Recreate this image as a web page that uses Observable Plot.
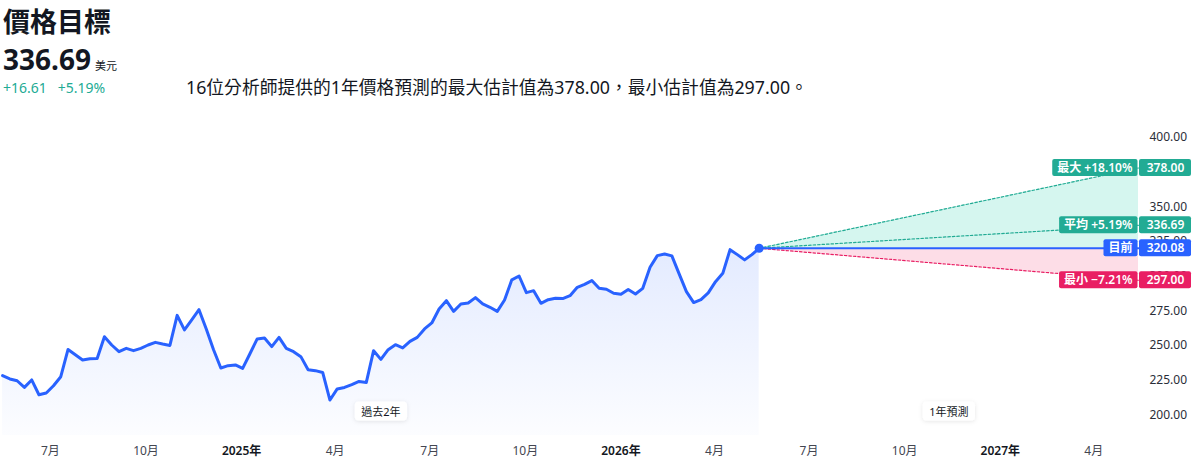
<!DOCTYPE html>
<html><head><meta charset="utf-8">
<script src="https://cdn.jsdelivr.net/npm/d3@7"></script>
<script src="https://cdn.jsdelivr.net/npm/@observablehq/plot@0.6"></script>
<style>
  html,body{margin:0;padding:0;background:#fff;}
  body{width:1195px;height:464px;overflow:hidden;font-family:"Noto Sans","Noto Sans CJK TC",sans-serif;color:#131722;}
  #hdr{position:relative;height:110px;}
  #hdr div{position:absolute;white-space:nowrap;line-height:1;}
  #title{left:3px;top:7px;font-size:27px;font-weight:700;font-family:"Noto Sans CJK TC",sans-serif;}
  #price{left:3px;top:45px;font-size:28px;font-weight:700;}
  #price span{font-size:11px;font-weight:400;margin-left:4px;font-family:"Noto Sans CJK TC",sans-serif;}
  #chg{left:3px;top:81px;font-size:14px;color:#22ab94;}
  #sub{left:186px;top:79px;font-size:17.8px;}
  #chart{position:absolute;left:0;top:110px;}
</style>
</head><body>
<div id="hdr">
  <div id="title"></div>
  <div id="price"></div>
  <div id="chg"></div>
  <div id="sub"></div>
</div>
<div id="chart"></div>
<script>
// ---- data ----
const titleText = "價格目標";
const targetPrice = "336.69";
const currency = "美元";
const changeAbs = "+16.61";
const changePct = "+5.19%";
const subtitle = "16位分析師提供的1年價格預測的最大估計值為378.00，最小估計值為297.00。";

const dates = [
"2024-05-16","2024-05-23","2024-05-30","2024-06-06","2024-06-13","2024-06-20","2024-06-27","2024-07-04","2024-07-11","2024-07-18",
"2024-07-25","2024-08-01","2024-08-08","2024-08-15","2024-08-22","2024-08-29","2024-09-05","2024-09-12","2024-09-19","2024-09-26",
"2024-10-03","2024-10-10","2024-10-17","2024-10-24","2024-10-31","2024-11-07","2024-11-14","2024-11-21","2024-11-28","2024-12-05",
"2024-12-12","2024-12-19","2024-12-26","2025-01-02","2025-01-09","2025-01-16","2025-01-23","2025-01-30","2025-02-06","2025-02-13",
"2025-02-20","2025-02-27","2025-03-06","2025-03-13","2025-03-20","2025-03-27","2025-04-03","2025-04-10","2025-04-17","2025-04-24",
"2025-05-01","2025-05-08","2025-05-15","2025-05-22","2025-05-29","2025-06-05","2025-06-12","2025-06-19","2025-06-26","2025-07-03",
"2025-07-10","2025-07-17","2025-07-24","2025-07-31","2025-08-07","2025-08-14","2025-08-21","2025-08-28","2025-09-04","2025-09-11",
"2025-09-18","2025-09-25","2025-10-02","2025-10-09","2025-10-16","2025-10-23","2025-10-30","2025-11-06","2025-11-13","2025-11-20",
"2025-11-27","2025-12-04","2025-12-11","2025-12-18","2025-12-25","2026-01-01","2026-01-08","2026-01-15","2026-01-22","2026-01-29",
"2026-02-05","2026-02-12","2026-02-19","2026-02-26","2026-03-05","2026-03-12","2026-03-19","2026-03-26","2026-04-02","2026-04-09",
"2026-04-16","2026-04-23","2026-04-30","2026-05-07","2026-05-14"];
const prices = [
228.2,225.8,224.5,219.7,225.1,214.4,215.7,220.9,227.4,247.1,
243.3,239.5,240.4,240.6,256.3,250.3,245.5,247.9,246.2,247.9,
250.3,252.2,251.0,250.0,271.7,261.2,268.4,275.8,261.9,246.9,
233.7,235.4,235.9,233.4,244.0,254.7,255.4,249.1,255.8,247.9,
245.5,241.9,232.5,231.8,230.5,210.6,218.6,219.7,221.7,224.0,
223.3,246.2,239.9,246.9,250.5,248.2,252.9,255.8,261.9,266.2,
276.3,282.3,274.6,279.9,280.6,284.5,279.9,277.5,274.6,282.8,
297.3,300.1,288.1,289.5,280.4,283.0,284.0,283.8,285.9,291.9,
294.1,296.8,291.2,290.5,287.6,286.9,290.3,287.1,291.2,306.4,
314.8,316.0,314.6,301.6,288.8,280.9,283.0,287.9,296.0,302.0,
319.1,315.5,311.7,315.5,320.08];

const forecastEnd = "2027-05-14";
const currentPrice = 320.08;
const currentLabel = "目前";
const targetLabels = ["最大 +18.10%", "平均 +5.19%", "最小 −7.21%"];
const targetValues = [378.00, 336.69, 297.00];
const targetKinds  = ["up", "up", "down"];

const yTicks = [200, 225, 250, 275, 300, 325, 350, 400];
const monthTickDates  = ["2024-07-01","2024-10-01","2025-04-01","2025-07-01","2025-10-01","2026-04-01","2026-07-01","2026-10-01","2027-04-01"];
const monthTickLabels = ["7月","10月","4月","7月","10月","4月","7月","10月","4月"];
const yearTickDates   = ["2025-01-01","2026-01-01","2027-01-01"];
const yearTickLabels  = ["2025年","2026年","2027年"];
const periodLabels = ["過去2年", "1年預測"];

// ---- header ----
document.getElementById("title").textContent = titleText;
document.getElementById("price").innerHTML = targetPrice + "<span>" + currency + "</span>";
document.getElementById("chg").innerHTML = changeAbs + "&nbsp;&nbsp;&nbsp;" + changePct;
document.getElementById("sub").textContent = subtitle;

// ---- colours ----
const BLUE = "#2962ff", TEAL = "#22ab94", PINK = "#e91e63";
const MINT_FILL = "#d5f6ef", PINK_FILL = "#fddde7";

// ---- tables ----
const hist = dates.map((d, i) => ({date: new Date(d), price: prices[i]}));
const last = hist[hist.length - 1];
const endDate = new Date(forecastEnd);
const startDate = new Date("2024-05-14");
const yMin = 185, yMax = 419.5;

const maxV = d3.max(targetValues), minV = d3.min(targetValues);
const upTri = [{date: last.date, lo: currentPrice, hi: currentPrice}, {date: endDate, lo: currentPrice, hi: maxV}];
const downTri = [{date: last.date, lo: currentPrice, hi: currentPrice}, {date: endDate, lo: minV, hi: currentPrice}];

const targetLines = targetValues.map((v, i) => [
  {date: last.date, price: currentPrice, kind: targetKinds[i]},
  {date: endDate, price: v, kind: targetKinds[i]}
]);

const tags = [
  {label: targetLabels[0], value: targetValues[0], color: TEAL},
  {label: targetLabels[1], value: targetValues[1], color: TEAL},
  {label: currentLabel, value: currentPrice, color: BLUE},
  {label: targetLabels[2], value: targetValues[2], color: PINK}
];

const pills = [
  {label: periodLabels[0], date: new Date((+hist[0].date + +last.date) / 2)},
  {label: periodLabels[1], date: new Date((+last.date + +endDate) / 2)}
];

const FONT = '"Noto Sans","Noto Sans CJK TC",sans-serif';

const chart = Plot.plot({
  width: 1195, height: 354,
  marginLeft: 0, marginRight: 57, marginTop: 0, marginBottom: 29,
  x: {type: "utc", domain: [startDate, endDate], label: null},
  y: {domain: [yMin, yMax], label: null},
  style: {fontFamily: FONT, fontSize: "12px", color: "#131722", background: "transparent", overflow: "visible"},
  marks: [
    Plot.areaY(hist, {x: "date", y1: yMin, y2: "price", fill: "url(#histGrad)"}),
    Plot.areaY(upTri, {x: "date", y1: "lo", y2: "hi", fill: MINT_FILL}),
    Plot.areaY(downTri, {x: "date", y1: "lo", y2: "hi", fill: PINK_FILL}),
    ...targetLines.map(l => Plot.line(l, {x: "date", y: "price", stroke: l[0].kind === "up" ? TEAL : PINK, strokeWidth: 1.2, strokeDasharray: "2.5,2"})),
    Plot.line([last, {date: endDate, price: currentPrice}], {x: "date", y: "price", stroke: BLUE, strokeWidth: 2}),
    Plot.line(hist, {x: "date", y: "price", stroke: BLUE, strokeWidth: 3, strokeLinejoin: "round", strokeLinecap: "round"}),
    Plot.dot([last], {x: "date", y: "price", r: 4.5, fill: BLUE}),
    Plot.axisY(yTicks, {anchor: "right", tickSize: 0, tickPadding: 11, tickFormat: d => d.toFixed(2), fill: "#2a2e39", label: null, fontSize: 12}),
    Plot.axisX(monthTickDates.map(d => new Date(d)), {anchor: "bottom", tickSize: 0, tickPadding: 11, label: null, fill: "#434651",
      tickFormat: d => monthTickLabels[monthTickDates.indexOf(d.toISOString().slice(0, 10))]}),
    Plot.axisX(yearTickDates.map(d => new Date(d)), {anchor: "bottom", tickSize: 0, tickPadding: 11, label: null, fill: "#131722", fontWeight: 600,
      tickFormat: d => yearTickLabels[yearTickDates.indexOf(d.toISOString().slice(0, 10))]}),
    Plot.text(pills, {x: "date", frameAnchor: "bottom", dy: -20, text: "label", fill: "#131722", fontSize: 11, ariaDescription: "pill"}),
    Plot.text(tags, {x: () => endDate, y: "value", text: "label", textAnchor: "end", dx: -6, fill: "white", fontSize: 12, fontWeight: 600, ariaDescription: "tag-label"}),
    Plot.text(tags, {x: () => endDate, y: "value", text: d => d.value.toFixed(2), textAnchor: "middle", dx: 27, fill: "white", fontSize: 12, fontWeight: 600, ariaDescription: "tag-value"})
  ]
});
document.getElementById("chart").append(chart);

// ---- gradient defs ----
const NS = "http://www.w3.org/2000/svg";
const defs = document.createElementNS(NS, "defs");
defs.innerHTML = '<linearGradient id="histGrad" x1="0" y1="0" x2="0" y2="1">' +
  '<stop offset="0" stop-color="rgb(41,98,255)" stop-opacity="0.13"/>' +
  '<stop offset="1" stop-color="rgb(41,98,255)" stop-opacity="0.015"/></linearGradient>' +
  '<filter id="pillShadow" x="-30%" y="-50%" width="160%" height="200%"><feDropShadow dx="0" dy="1" stdDeviation="2" flood-color="#000" flood-opacity="0.10"/></filter>';
chart.insertBefore(defs, chart.firstChild);

// ---- backgrounds for tags and pills ----
const sx = chart.scale("x"), sy = chart.scale("y");
const svgBox = chart.getBoundingClientRect();
const X = sx.apply(endDate);

function addBg(desc, build) {
  const g = chart.querySelector('g[aria-description="' + desc + '"]');
  if (!g) return;
  const bg = document.createElementNS(NS, "g");
  g.parentNode.insertBefore(bg, g);
  g.querySelectorAll("text").forEach((t, i) => build(bg, t, i));
}
function rect(parent, x, y, w, h, fill, rx, extra) {
  const r = document.createElementNS(NS, "rect");
  r.setAttribute("x", x); r.setAttribute("y", y);
  r.setAttribute("width", w); r.setAttribute("height", h);
  r.setAttribute("fill", fill); r.setAttribute("rx", rx);
  if (extra) for (const k in extra) r.setAttribute(k, extra[k]);
  parent.appendChild(r);
}
addBg("tag-label", (bg, t, i) => {
  const b = t.getBoundingClientRect();
  const Y = sy.apply(tags[i].value);
  const left = b.left - svgBox.left - 5;
  rect(bg, left, Y - 8.5, X - 0.5 - left, 17, tags[i].color, 2);
});
addBg("tag-value", (bg, t, i) => {
  const Y = sy.apply(tags[i].value);
  rect(bg, X + 1, Y - 8.5, 52, 17, tags[i].color, 2);
});
addBg("pill", (bg, t, i) => {
  const b = t.getBoundingClientRect();
  const cx = (b.left + b.right) / 2 - svgBox.left;
  const cy = (b.top + b.bottom) / 2 - svgBox.top;
  const w = b.width + 13;
  rect(bg, cx - w / 2, cy - 9.5, w, 19, "white", 4, {filter: "url(#pillShadow)"});
});
</script>
</body></html>
